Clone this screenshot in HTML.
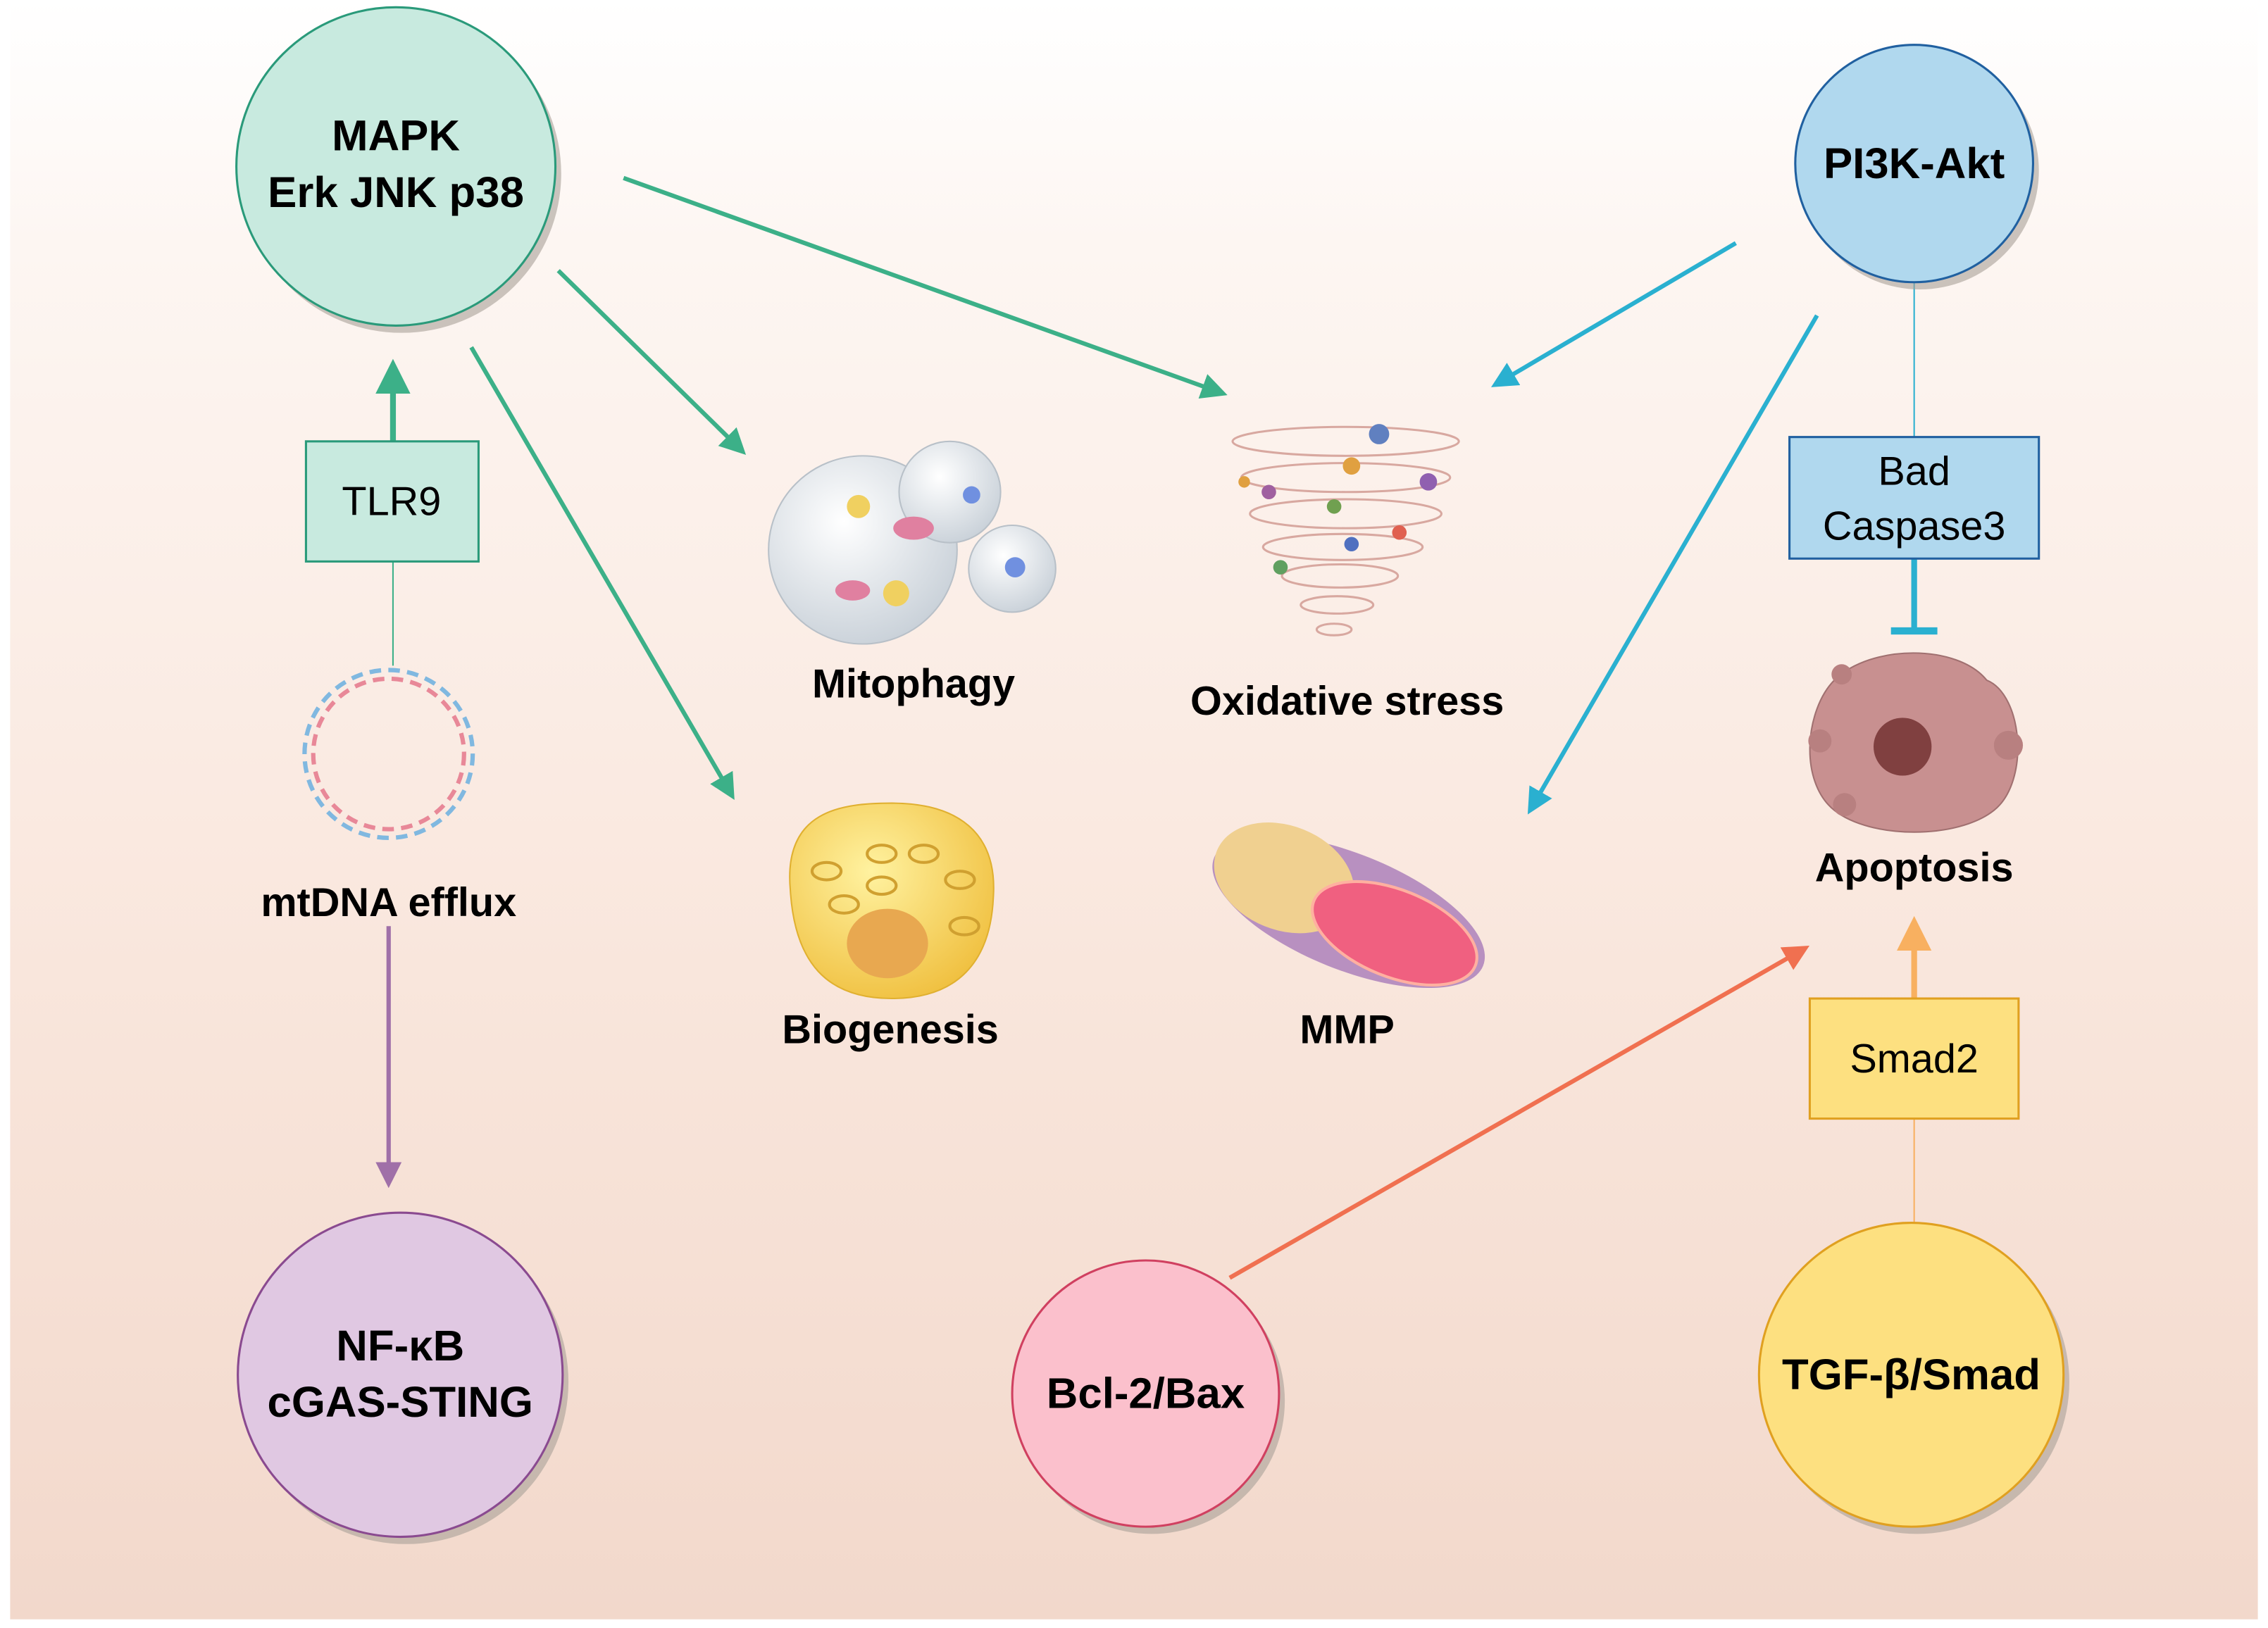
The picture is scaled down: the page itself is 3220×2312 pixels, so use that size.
<!DOCTYPE html>
<html><head><meta charset="utf-8"><style>html,body{margin:0;padding:0;background:#fff}svg{display:block}</style></head>
<body>
<svg width="3220" height="2312" viewBox="0 0 1564 1125" preserveAspectRatio="none" xmlns="http://www.w3.org/2000/svg" font-family="Liberation Sans, Arial, sans-serif">
<defs>
<linearGradient id="bg" x1="0" y1="0" x2="0" y2="1">
<stop offset="0" stop-color="#ffffff"/><stop offset="0.15" stop-color="#fdf6f2"/><stop offset="0.6" stop-color="#f9e6dc"/><stop offset="1" stop-color="#f2d8cb"/></linearGradient>
<marker id="ag" markerWidth="6" markerHeight="6" refX="3" refY="3" orient="auto" markerUnits="strokeWidth"><path d="M0,0L6,3L0,6z" fill="#3cb088"/></marker>
<marker id="ab" markerWidth="6" markerHeight="6" refX="3" refY="3" orient="auto" markerUnits="strokeWidth"><path d="M0,0L6,3L0,6z" fill="#2ab0d0"/></marker>
<marker id="ap" markerWidth="6" markerHeight="6" refX="3" refY="3" orient="auto" markerUnits="strokeWidth"><path d="M0,0L6,3L0,6z" fill="#a070a8"/></marker>
<marker id="ar" markerWidth="6" markerHeight="6" refX="3" refY="3" orient="auto" markerUnits="strokeWidth"><path d="M0,0L6,3L0,6z" fill="#f07050"/></marker>
<marker id="ao" markerWidth="6" markerHeight="6" refX="3" refY="3" orient="auto" markerUnits="strokeWidth"><path d="M0,0L6,3L0,6z" fill="#f8b060"/></marker>
<radialGradient id="bub" cx="0.4" cy="0.35" r="0.7"><stop offset="0" stop-color="#ffffff"/><stop offset="1" stop-color="#c8d0d8"/></radialGradient>
<radialGradient id="cel" cx="0.4" cy="0.35" r="0.7"><stop offset="0" stop-color="#fff2a0"/><stop offset="1" stop-color="#f0c040"/></radialGradient>
</defs>
<rect x="0" y="0" width="1564" height="1125" fill="#fff"/>
<rect x="7" y="0" width="1550" height="1119" fill="url(#bg)"/>

<!-- connectors -->
<g fill="none">
<line x1="430" y1="123" x2="838" y2="270" stroke="#3cb088" stroke-width="3" marker-end="url(#ag)"/>
<line x1="385" y1="187" x2="508" y2="308" stroke="#3cb088" stroke-width="3" marker-end="url(#ag)"/>
<line x1="325" y1="240" x2="502" y2="545" stroke="#3cb088" stroke-width="3" marker-end="url(#ag)"/>
<line x1="271" y1="305" x2="271" y2="260" stroke="#3cb088" stroke-width="4" marker-end="url(#ag)"/>
<line x1="271" y1="388" x2="271" y2="460" stroke="#3cb088" stroke-width="1"/>
<line x1="268" y1="640" x2="268" y2="812" stroke="#a070a8" stroke-width="3" marker-end="url(#ap)"/>
<line x1="1197" y1="168" x2="1036" y2="263" stroke="#2ab0d0" stroke-width="3" marker-end="url(#ab)"/>
<line x1="1253" y1="218" x2="1058" y2="555" stroke="#2ab0d0" stroke-width="3" marker-end="url(#ab)"/>
<line x1="1320" y1="195" x2="1320" y2="302" stroke="#2ab0d0" stroke-width="1"/>
<line x1="1320" y1="386" x2="1320" y2="436" stroke="#2ab0d0" stroke-width="4"/>
<line x1="1304" y1="436" x2="1336" y2="436" stroke="#2ab0d0" stroke-width="5"/>
<line x1="848" y1="883" x2="1240" y2="658" stroke="#f07050" stroke-width="3" marker-end="url(#ar)"/>
<line x1="1320" y1="690" x2="1320" y2="645" stroke="#f8b060" stroke-width="4" marker-end="url(#ao)"/>
<line x1="1320" y1="773" x2="1320" y2="845" stroke="#f8b060" stroke-width="1"/>
</g>

<!-- circles -->
<g>
<circle cx="277" cy="120" r="110" fill="#a8a098" opacity="0.6"/>
<circle cx="273" cy="115" r="110" fill="#c8eadf" stroke="#2a9a7a" stroke-width="1.5"/>
<circle cx="1324" cy="118" r="82" fill="#a8a098" opacity="0.6"/>
<circle cx="1320" cy="113" r="82" fill="#b0d8ee" stroke="#2060a0" stroke-width="1.5"/>
<circle cx="280" cy="955" r="112" fill="#a8a098" opacity="0.6"/>
<circle cx="276" cy="950" r="112" fill="#e0c8e2" stroke="#8a4a90" stroke-width="1.5"/>
<circle cx="794" cy="968" r="92" fill="#a8a098" opacity="0.6"/>
<circle cx="790" cy="963" r="92" fill="#fbc0cc" stroke="#d04060" stroke-width="1.5"/>
<circle cx="1322" cy="955" r="105" fill="#a8a098" opacity="0.6"/>
<circle cx="1318" cy="950" r="105" fill="#fde080" stroke="#e0a020" stroke-width="1.5"/>
</g>
<g font-weight="bold" font-size="30" text-anchor="middle" fill="#000">
<text x="273" y="104">MAPK</text>
<text x="273" y="143">Erk JNK p38</text>
<text x="1320" y="123">PI3K-Akt</text>
<text x="276" y="940">NF-κB</text>
<text x="276" y="979">cGAS-STING</text>
<text x="790" y="973">Bcl-2/Bax</text>
<text x="1318" y="960">TGF-β/Smad</text>
</g>

<!-- boxes -->
<rect x="211" y="305" width="119" height="83" fill="#c8eadf" stroke="#2a9a7a" stroke-width="1.5"/>
<rect x="1234" y="302" width="172" height="84" fill="#b0d8ee" stroke="#2060a0" stroke-width="1.5"/>
<rect x="1248" y="690" width="144" height="83" fill="#fde080" stroke="#e0a020" stroke-width="1.5"/>
<g font-size="28" text-anchor="middle" fill="#000">
<text x="270" y="356">TLR9</text>
<text x="1320" y="335">Bad</text>
<text x="1320" y="373">Caspase3</text>
<text x="1320" y="741">Smad2</text>
</g>

<!-- labels -->
<g font-weight="bold" font-size="28" text-anchor="middle" fill="#000">
<text x="268" y="633">mtDNA efflux</text>
<text x="630" y="482">Mitophagy</text>
<text x="929" y="494">Oxidative stress</text>
<text x="614" y="721">Biogenesis</text>
<text x="929" y="721">MMP</text>
<text x="1320" y="609">Apoptosis</text>
</g>

<!-- dna ring -->
<g fill="none">
<circle cx="268" cy="521" r="52" stroke="#e88898" stroke-width="3" stroke-dasharray="8 5"/>
<circle cx="268" cy="521" r="58" stroke="#80b8e0" stroke-width="3" stroke-dasharray="8 5"/>
</g>

<!-- mitophagy -->
<circle cx="595" cy="380" r="65" fill="url(#bub)" stroke="#b8c0c8"/>
<circle cx="655" cy="340" r="35" fill="url(#bub)" stroke="#b8c0c8"/>
<circle cx="698" cy="393" r="30" fill="url(#bub)" stroke="#b8c0c8"/>
<ellipse cx="630" cy="365" rx="14" ry="8" fill="#e080a0"/>
<ellipse cx="588" cy="408" rx="12" ry="7" fill="#e080a0"/>
<circle cx="592" cy="350" r="8" fill="#f0d060"/><circle cx="618" cy="410" r="9" fill="#f0d060"/>
<circle cx="670" cy="342" r="6" fill="#7090e0"/><circle cx="700" cy="392" r="7" fill="#7090e0"/>

<!-- oxidative stress swirl -->
<g fill="none" stroke="#d8a8a0" stroke-width="1.5">
<ellipse cx="928" cy="305" rx="78" ry="10"/><ellipse cx="928" cy="330" rx="72" ry="10"/>
<ellipse cx="928" cy="355" rx="66" ry="10"/><ellipse cx="926" cy="378" rx="55" ry="9"/>
<ellipse cx="924" cy="398" rx="40" ry="8"/><ellipse cx="922" cy="418" rx="25" ry="6"/><ellipse cx="920" cy="435" rx="12" ry="4"/>
</g>
<circle cx="951" cy="300" r="7" fill="#6080c0"/><circle cx="932" cy="322" r="6" fill="#e0a040"/><circle cx="985" cy="333" r="6" fill="#9060b0"/>
<circle cx="875" cy="340" r="5" fill="#a060a0"/><circle cx="920" cy="350" r="5" fill="#70a050"/><circle cx="965" cy="368" r="5" fill="#e06050"/>
<circle cx="883" cy="392" r="5" fill="#60a060"/><circle cx="932" cy="376" r="5" fill="#5070c0"/><circle cx="858" cy="333" r="4" fill="#e0a040"/>

<!-- biogenesis cell -->
<path d="M545,615 C540,560 580,555 615,555 C660,555 688,575 685,620 C683,665 660,690 615,690 C570,690 548,665 545,615Z" fill="url(#cel)" stroke="#e0b030"/>
<ellipse cx="612" cy="652" rx="28" ry="24" fill="#e8a850"/>
<g fill="none" stroke="#d0a030" stroke-width="2">
<ellipse cx="570" cy="602" rx="10" ry="6"/><ellipse cx="608" cy="590" rx="10" ry="6"/><ellipse cx="637" cy="590" rx="10" ry="6"/>
<ellipse cx="662" cy="608" rx="10" ry="6"/><ellipse cx="582" cy="625" rx="10" ry="6"/><ellipse cx="608" cy="612" rx="10" ry="6"/><ellipse cx="665" cy="640" rx="10" ry="6"/></g>

<!-- MMP mitochondrion -->
<g transform="rotate(22 930 630)">
<ellipse cx="930" cy="630" rx="100" ry="40" fill="#b890c0"/>
<ellipse cx="880" cy="625" rx="50" ry="36" fill="#f0d090"/>
<ellipse cx="965" cy="632" rx="60" ry="30" fill="#f06080" stroke="#ffb0a0" stroke-width="2"/>
</g>

<!-- apoptosis cell -->
<path d="M1265,470 C1290,445 1350,445 1370,470 C1395,480 1400,540 1375,560 C1350,580 1290,580 1265,560 C1240,540 1245,490 1265,470Z" fill="#c89090" stroke="#a07070"/>
<circle cx="1312" cy="516" r="20" fill="#804040"/>
<circle cx="1270" cy="466" r="7" fill="#b88080"/><circle cx="1385" cy="515" r="10" fill="#b88080"/><circle cx="1255" cy="512" r="8" fill="#b88080"/><circle cx="1272" cy="556" r="8" fill="#b88080"/>
</svg>
</body></html>
